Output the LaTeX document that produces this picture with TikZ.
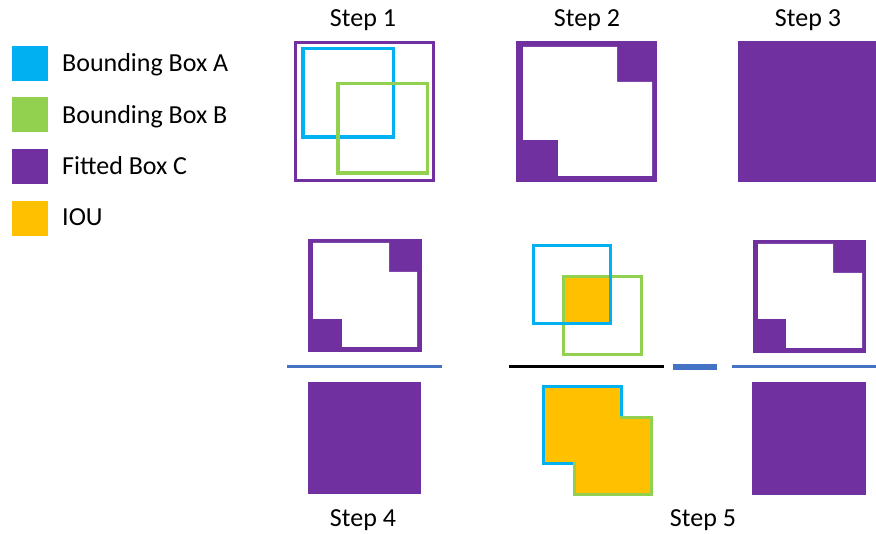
\documentclass[tikz,border=0pt]{standalone}
\usepackage{fontspec}
\setmainfont{Carlito}
\definecolor{boxA}{HTML}{00B0F0}
\definecolor{boxB}{HTML}{92D050}
\definecolor{boxC}{HTML}{7030A0}
\definecolor{iou}{HTML}{FFC000}
\definecolor{rule}{HTML}{4472C4}
\tikzset{
  label text/.style={inner sep=0pt, font=\fontsize{26}{30}\selectfont},
  legend key/.style={minimum width=36pt, minimum height=35pt, inner sep=0pt, draw=none},
  outline A/.style={draw=boxA, line width=3.5pt},
  outline B/.style={draw=boxB, line width=3.5pt},
  outline C/.style={draw=boxC, line width=3pt},
  ruleline/.style={draw=rule, line width=3pt},
  fracline/.style={draw=black, line width=3pt},
}
\begin{document}
\begin{tikzpicture}[x=1pt,y=-1pt]
\useasboundingbox (0,0) rectangle (876,534);

% ---- legend ----
\node[legend key, fill=boxA] (keyA) at (30,63.5) {};
\node[legend key, fill=boxB] (keyB) at (30,115) {};
\node[legend key, fill=boxC] (keyC) at (30,166.5) {};
\node[legend key, fill=iou]  (keyI) at (30,218.5) {};
\node[label text, anchor=base west] (txtA) at (62,72)  {Bounding Box A};
\node[label text, anchor=base west] (txtB) at (62,124) {Bounding Box B};
\node[label text, anchor=base west] (txtC) at (62,175) {Fitted Box C};
\node[label text, anchor=base west] (txtI) at (62,226) {IOU};

% ---- step titles ----
\node[label text, anchor=base] (s1) at (363,27)  {Step 1};
\node[label text, anchor=base] (s2) at (587,27)  {Step 2};
\node[label text, anchor=base] (s3) at (808,27)  {Step 3};
\node[label text, anchor=base] (s4) at (363,526) {Step 4};
\node[label text, anchor=base] (s5) at (703,526) {Step 5};

% ---- step 1: the two boxes and the box fitted round them ----
\draw[outline C] (295.5,42.5) rectangle (433.5,180.5);
\draw[outline A] (302.75,48.75) rectangle (393.25,137.25);
\draw[outline B] (337.75,83.75) rectangle (427.25,173.25);

% ---- step 2: fitted box minus the union ----
\fill[boxC] (516,41) rectangle (657,182);
\fill[white] (523,47) -- (617,47) -- (617,82) -- (652,82) -- (652,176)
  -- (558,176) -- (558,140) -- (523,140) -- cycle;

% ---- step 3: the fitted box ----
\fill[boxC] (738,41) rectangle (879,182);

% ---- step 4: ratio ----
\fill[boxC] (308,239) rectangle (422,352);
\fill[white] (313,243) -- (389,243) -- (389,272) -- (417,272) -- (417,347)
  -- (342,347) -- (342,319) -- (313,319) -- cycle;
\draw[ruleline] (287,367) -- (442,367);
\fill[boxC] (308,382) rectangle (421,494);

% ---- step 5: IOU ratio minus step 4 ratio ----
\fill[iou] (563,277) rectangle (611,323);
\draw[outline B] (563.5,276.5) rectangle (641.5,354.5);
\draw[outline A] (533.5,245.5) rectangle (610.5,323.5);
\draw[fracline] (509,367) -- (664,367);
\fill[iou] (543.5,386.5) -- (621.5,386.5) -- (621.5,417.5) -- (651.5,417.5)
  -- (651.5,494.5) -- (574.5,494.5) -- (574.5,463.5) -- (543.5,463.5) -- cycle;
\draw[draw=boxA, line width=3pt, line join=miter]
  (574.5,463.5) -- (543.5,463.5) -- (543.5,386.5) -- (621.5,386.5) -- (621.5,417.5);
\draw[draw=boxB, line width=3pt, line join=miter]
  (620,417.5) -- (651.5,417.5) -- (651.5,494.5) -- (574.5,494.5) -- (574.5,462);

% minus sign
\draw[draw=rule, line width=5.5pt] (673,367) -- (717,367);

\fill[boxC] (753,240) rectangle (866,353);
\fill[white] (758,244) -- (833,244) -- (833,273) -- (862,273) -- (862,348)
  -- (786,348) -- (786,319) -- (758,319) -- cycle;
\draw[ruleline] (732,367) -- (880,367);
\fill[boxC] (752,382) rectangle (866,495);
\end{tikzpicture}
\end{document}
